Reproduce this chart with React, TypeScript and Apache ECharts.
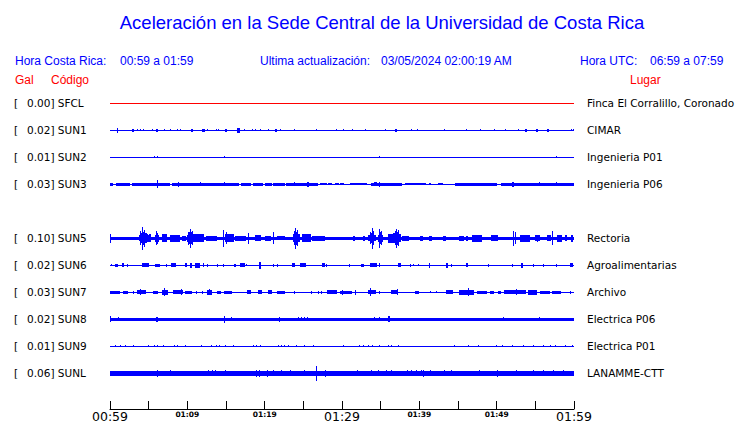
import React, { useEffect, useRef } from "react";
import * as echarts from "echarts";

// ---- axis / labels ----
const TIME_LABELS = ["00:59", "01:09", "01:19", "01:29", "01:39", "01:49", "01:59"];
const MINUTES_SPAN = 60;

// ---- stations ----
const CODES = ["SFCL", "SUN1", "SUN2", "SUN3", "SUN5", "SUN6", "SUN7", "SUN8", "SUN9", "SUNL"];
const PEAKS = ["0.00", "0.02", "0.01", "0.03", "0.10", "0.02", "0.03", "0.02", "0.01", "0.06"];
const PLACES = [
  "Finca El Corralillo, Coronado",
  "CIMAR",
  "Ingenieria P01",
  "Ingenieria P06",
  "Rectoria",
  "Agroalimentarias",
  "Archivo",
  "Electrica P06",
  "Electrica P01",
  "LANAMME-CTT",
];
const ROW_SLOTS = [0, 1, 2, 3, 5, 6, 7, 8, 9, 10];

// envelope bands: [startMin, endMin, halfAmplitudeGal]
// spikes: [minute, halfAmplitudeGal, durationMin?]
const SFCL_BAND: number[][] = [];
const SFCL_SPIKES: number[][] = [];

const SUN1_BAND: number[][] = [];
const SUN1_SPIKES: number[][] = [
  [0.95, 0.02], [2.9, 0.012], [3.1, 0.012], [3.5, 0.008], [3.9, 0.008], [4.3, 0.01], [5.5, 0.01],
  [6.1, 0.012, 0.25], [7.0, 0.01], [7.8, 0.01], [8.7, 0.008], [9.1, 0.01], [10.0, 0.006],
  [10.6, 0.012, 0.25], [12.05, 0.013, 0.4], [12.6, 0.01], [13.2, 0.006], [13.8, 0.01], [14.0, 0.01],
  [15.0, 0.012, 0.25], [16.6, 0.02, 0.4], [17.4, 0.01], [18.4, 0.01], [18.8, 0.01], [19.4, 0.01],
  [20.5, 0.008], [21.45, 0.012, 0.3], [22.0, 0.01], [22.4, 0.006], [23.8, 0.01], [26.7, 0.01],
  [27.7, 0.006], [28.5, 0.006], [29.3, 0.01], [30.2, 0.01], [31.3, 0.008], [31.8, 0.006], [33.0, 0.01],
  [35.6, 0.01], [37.0, 0.012, 0.2], [39.0, 0.01], [39.7, 0.01], [42.7, 0.006], [43.2, 0.01],
  [46.1, 0.01], [46.6, 0.006], [47.9, 0.01], [49.7, 0.01], [51.2, 0.01], [52.8, 0.01],
  [53.8, 0.013, 0.3], [55.3, 0.013, 0.3], [56.6, 0.013, 0.3], [59.7, 0.01], [59.9, 0.01],
];

const SUN2_BAND: number[][] = [];
const SUN2_SPIKES: number[][] = [
  [5.7, 0.008], [6.1, 0.008], [14.8, 0.008], [15.5, 0.006], [18.9, 0.005], [24.4, 0.005],
  [25.0, 0.005], [34.8, 0.01], [35.3, 0.006], [52.2, 0.005], [57.8, 0.01],
];

const SUN3_BAND: number[][] = [
  [0, 0.35, 0.011], [0.8, 2.65, 0.011], [2.9, 7.75, 0.011], [8.0, 16.6, 0.011], [17.0, 18.3, 0.011],
  [18.5, 19.8, 0.011], [20.0, 20.9, 0.011], [21.1, 22.6, 0.011], [22.8, 26.9, 0.011],
  [27.1, 28.0, 0.01], [28.2, 28.7, 0.01], [29.1, 29.6, 0.01], [29.7, 30.2, 0.01], [31.0, 33.2, 0.01],
  [33.8, 37.8, 0.011], [38.2, 40.9, 0.01], [41.3, 41.6, 0.009], [42.4, 43.0, 0.009],
  [44.6, 50.0, 0.011], [50.5, 60, 0.011],
];
const SUN3_SPIKES: number[][] = [
  [6.1, 0.035], [8.8, 0.019], [11.7, 0.018], [14.8, 0.018], [23.8, 0.015], [25.6, 0.021, 0.3],
  [34.3, 0.016, 0.4], [34.9, 0.022], [52.1, 0.02, 0.3], [55.6, 0.016], [57.7, 0.015],
];

const SUN5_BAND: number[][] = [
  [0, 60, 0.014],
  [3.7, 4.3, 0.025], [4.0, 4.15, 0.04], [4.15, 4.5, 0.055], [4.5, 4.7, 0.04],
  [4.6, 4.9, 0.035], [4.9, 5.1, 0.028], [5.1, 5.4, 0.033],
  [5.8, 5.95, 0.03], [5.95, 6.15, 0.045], [6.15, 6.3, 0.03], [6.7, 7.3, 0.033],
  [7.8, 9.1, 0.028], [9.3, 9.8, 0.021], [9.9, 10.1, 0.03], [10.1, 10.6, 0.05], [10.6, 11.0, 0.035],
  [11.0, 12.1, 0.033], [12.4, 13.8, 0.019],
  [14.9, 16.0, 0.035], [16.2, 17.6, 0.021], [18.8, 19.6, 0.025], [20.0, 20.8, 0.021],
  [21.6, 22.6, 0.018], [23.7, 23.9, 0.035], [23.9, 24.3, 0.055], [24.3, 24.6, 0.035],
  [24.8, 25.9, 0.033], [26.1, 27.8, 0.021],
  [31.4, 31.6, 0.021], [32.7, 32.9, 0.021], [33.4, 33.7, 0.025], [33.7, 34.1, 0.04], [34.1, 34.3, 0.025],
  [34.6, 34.8, 0.03], [34.8, 35.1, 0.05], [35.1, 35.3, 0.03],
  [36.0, 36.6, 0.037], [36.6, 36.9, 0.04], [36.9, 37.3, 0.055], [37.3, 37.7, 0.035],
  [37.7, 38.6, 0.021], [40.1, 40.5, 0.021],
  [41.2, 41.6, 0.021], [43.1, 43.5, 0.021], [45.1, 45.7, 0.021], [46.0, 46.2, 0.021],
  [46.8, 48.1, 0.029], [49.3, 50.2, 0.025], [53.0, 54.3, 0.029], [55.0, 55.6, 0.027],
  [56.5, 57.0, 0.025], [57.8, 58.4, 0.029], [58.8, 59.0, 0.025], [59.6, 59.8, 0.029],
];
const SUN5_SPIKES: number[][] = [
  [0.05, 0.037], [4.2, 0.095, 0.15], [4.0, 0.06], [4.45, 0.07], [6.05, 0.06], [10.4, 0.078],
  [10.2, 0.055], [10.7, 0.06], [14.7, 0.07], [15.1, 0.05], [17.9, 0.046], [21.1, 0.052],
  [24.05, 0.089], [23.85, 0.06], [24.3, 0.065], [33.9, 0.087], [33.7, 0.05], [34.1, 0.06],
  [34.9, 0.08], [35.1, 0.06], [37.1, 0.078], [36.9, 0.06], [37.3, 0.065], [52.2, 0.064],
  [52.4, 0.05], [57.2, 0.058], [55.3, 0.03],
];

const SUN6_BAND: number[][] = [
  [0.6, 1.0, 0.014], [1.5, 1.7, 0.017], [4.1, 5.0, 0.017], [5.8, 6.5, 0.014], [7.9, 8.6, 0.017],
  [9.7, 9.9, 0.017], [10.3, 10.6, 0.019], [11.0, 11.6, 0.019], [16.0, 16.3, 0.014],
  [16.8, 17.4, 0.017], [23.5, 23.9, 0.017], [24.6, 25.4, 0.017], [27.4, 27.8, 0.017],
  [32.5, 32.9, 0.012], [33.6, 34.5, 0.017], [37.3, 37.7, 0.017], [43.4, 43.7, 0.019],
  [46.0, 46.3, 0.017], [53.2, 53.5, 0.019], [59.5, 59.9, 0.017],
];
const SUN6_SPIKES: number[][] = [
  [0.22, 0.008], [2.3, 0.012], [7.3, 0.014], [12.1, 0.017], [12.6, 0.011], [13.9, 0.011],
  [14.7, 0.014], [17.7, 0.008], [19.45, 0.03, 0.3], [21.2, 0.012], [21.7, 0.012], [28.0, 0.011],
  [31.0, 0.012], [34.9, 0.017], [38.8, 0.012], [39.3, 0.01], [39.9, 0.01], [41.3, 0.019],
  [44.2, 0.012], [49.0, 0.012], [52.1, 0.012], [54.7, 0.011], [56.0, 0.012], [57.7, 0.011],
];

const SUN7_BAND: number[][] = [
  [0, 1.3, 0.014], [1.7, 2.4, 0.011], [3.5, 4.7, 0.017], [5.6, 6.3, 0.012], [6.7, 7.5, 0.021],
  [8.2, 9.5, 0.017], [9.7, 10.6, 0.014], [12.5, 13.2, 0.019], [13.9, 14.4, 0.014],
  [14.7, 15.7, 0.011], [17.7, 18.2, 0.017], [19.2, 19.7, 0.017], [20.4, 20.9, 0.017],
  [21.6, 22.6, 0.014], [28.0, 29.3, 0.017], [29.7, 31.3, 0.014], [33.4, 34.4, 0.017],
  [36.4, 37.3, 0.017], [39.4, 39.9, 0.012], [43.5, 44.4, 0.017], [45.1, 47.0, 0.019],
  [47.4, 48.7, 0.011], [49.1, 49.6, 0.014], [50.2, 50.6, 0.014], [51.0, 53.9, 0.017],
  [54.1, 55.2, 0.019], [55.6, 56.9, 0.014], [57.1, 58.2, 0.012],
];
const SUN7_SPIKES: number[][] = [
  [3.0, 0.011], [4.0, 0.025], [7.0, 0.033], [9.3, 0.025], [11.2, 0.011], [11.9, 0.011],
  [12.9, 0.025], [23.9, 0.011], [26.0, 0.011], [27.0, 0.011], [27.4, 0.011], [30.1, 0.019],
  [31.7, 0.021], [33.7, 0.035], [34.9, 0.011], [37.2, 0.025], [41.4, 0.01], [42.2, 0.008],
  [46.3, 0.033], [52.6, 0.027], [59.5, 0.011],
];

const SUN8_BAND: number[][] = [[0, 60, 0.011]];
const SUN8_SPIKES: number[][] = [
  [0.05, 0.025], [1.1, 0.017], [2.4, 0.014], [4.9, 0.014], [6.05, 0.019, 0.3], [10.1, 0.014],
  [11.9, 0.014], [14.8, 0.03], [15.7, 0.017], [21.9, 0.019], [22.8, 0.014], [24.4, 0.017],
  [24.8, 0.017], [25.2, 0.017], [25.6, 0.017], [34.2, 0.017], [34.9, 0.017], [36.1, 0.025, 0.2],
  [39.9, 0.012], [50.9, 0.017], [52.1, 0.014], [53.0, 0.014], [55.6, 0.017], [57.0, 0.014],
];

const SUN9_BAND: number[][] = [];
const SUN9_SPIKES: number[][] = [
  [0.65, 0.009], [1.3, 0.008], [2.0, 0.009], [3.0, 0.009], [5.0, 0.008], [5.8, 0.009], [6.2, 0.009],
  [6.9, 0.008], [8.4, 0.009], [8.7, 0.008], [9.7, 0.008], [11.8, 0.009], [13.1, 0.008],
  [13.8, 0.009], [14.1, 0.008], [14.9, 0.009], [16.0, 0.008], [18.5, 0.009], [19.0, 0.008],
  [19.4, 0.009], [21.8, 0.009], [22.2, 0.008], [22.6, 0.009], [23.1, 0.008], [24.1, 0.009],
  [25.2, 0.008], [26.3, 0.008], [30.2, 0.008], [32.2, 0.008], [32.8, 0.008], [33.4, 0.008],
  [34.0, 0.009], [34.9, 0.009], [36.0, 0.008], [36.4, 0.009], [37.3, 0.008], [44.6, 0.008],
  [46.3, 0.009], [47.6, 0.008], [50.0, 0.008], [50.8, 0.009], [52.1, 0.009], [53.5, 0.008],
  [54.7, 0.009], [56.0, 0.008], [57.0, 0.009], [57.6, 0.008], [58.9, 0.008], [59.8, 0.009],
];

const SUNL_BAND: number[][] = [[0, 60, 0.02]];
const SUNL_SPIKES: number[][] = [
  [6.2, 0.028], [7.0, 0.022], [7.8, 0.025], [9.2, 0.022], [12.7, 0.025], [13.2, 0.025],
  [13.6, 0.025], [14.9, 0.025], [19.0, 0.029], [19.3, 0.029], [20.4, 0.031], [21.1, 0.025],
  [22.2, 0.025], [23.3, 0.025], [25.2, 0.025], [26.7, 0.064], [27.9, 0.029], [29.0, 0.022],
  [31.3, 0.022], [32.0, 0.025], [33.8, 0.025], [34.7, 0.025], [35.8, 0.027], [36.4, 0.027],
  [38.5, 0.025], [39.0, 0.025], [39.6, 0.025], [40.3, 0.025], [40.6, 0.029], [41.4, 0.025],
  [43.3, 0.025], [44.2, 0.025], [47.8, 0.025], [50.1, 0.029], [52.6, 0.025], [54.7, 0.025],
  [56.0, 0.025], [57.3, 0.025], [58.6, 0.025],
];

const BANDS_LIST = [SFCL_BAND, SUN1_BAND, SUN2_BAND, SUN3_BAND, SUN5_BAND, SUN6_BAND, SUN7_BAND, SUN8_BAND, SUN9_BAND, SUNL_BAND];
const SPIKES_LIST = [SFCL_SPIKES, SUN1_SPIKES, SUN2_SPIKES, SUN3_SPIKES, SUN5_SPIKES, SUN6_SPIKES, SUN7_SPIKES, SUN8_SPIKES, SUN9_SPIKES, SUNL_SPIKES];

// layout constants
const GAL_PER_ROW = 0.225; // vertical spacing of the traces in Gal
const DEFAULT_SPIKE_DUR = 0.13;
const BLUE = "#0000ff";
const RED = "#ff0000";
const SANS = "'Liberation Sans', Arial, sans-serif";
const DEJAVU = "'DejaVu Sans', sans-serif";

function buildItems(bands: number[][], spikes: number[][]) {
  const items: number[][] = [[0, MINUTES_SPAN, 0]];
  bands.forEach((b) => items.push([b[0], b[1], b[2]]));
  spikes.forEach((s) => {
    const d = s[2] ?? DEFAULT_SPIKE_DUR;
    items.push([s[0] - d / 2, s[0] + d / 2, s[1]]);
  });
  return items;
}

export default function App() {
  const ref = useRef<HTMLDivElement>(null);

  useEffect(() => {
    const chart = echarts.init(ref.current!, null, { renderer: "svg" });

    const series = CODES.map((code, i) => {
      const slot = ROW_SLOTS[i];
      const color = i === 0 ? RED : BLUE;
      return {
        type: "custom",
        name: code,
        coordinateSystem: "cartesian2d",
        silent: true,
        dimensions: ["t0", "t1", "amp"],
        encode: { x: [0, 1], y: 2 },
        data: buildItems(BANDS_LIST[i], SPIKES_LIST[i]),
        renderItem: (params: any, api: any) => {
          const t0 = api.value(0);
          const t1 = api.value(1);
          const amp = api.value(2);
          const c = slot * GAL_PER_ROW;
          const pa = api.coord([t0, c]);
          const pb = api.coord([t1, c + amp]);
          const x0 = Math.round(Math.min(pa[0], pb[0]));
          const w = Math.max(1, Math.round(Math.abs(pb[0] - pa[0])));
          const half = Math.abs(pb[1] - pa[1]);
          const h = Math.max(1, Math.round(2 * half));
          const y = Math.round(pa[1] - h / 2);
          return {
            type: "rect",
            shape: { x: x0, y, width: w, height: h },
            style: { fill: color },
          };
        },
      };
    });

    const graphics: any[] = [];
    const txt = (x: number, y: number, text: string, font: string, fill: string, align = "left") =>
      graphics.push({
        type: "text",
        x,
        y,
        silent: true,
        style: { text, font, fill, textAlign: align, textVerticalAlign: "middle" },
      });

    txt(382, 22, "Aceleración en la Sede Central de la Universidad de Costa Rica", `18.5px ${SANS}`, BLUE, "center");
    txt(15, 61, "Hora Costa Rica:", `12px ${SANS}`, BLUE);
    txt(120, 61, "00:59 a 01:59", `12px ${SANS}`, BLUE);
    txt(260, 61, "Ultima actualización:", `12px ${SANS}`, BLUE);
    txt(381, 61, "03/05/2024 02:00:19 AM", `12px ${SANS}`, BLUE);
    txt(580, 61, "Hora UTC:", `12px ${SANS}`, BLUE);
    txt(650, 61, "06:59 a 07:59", `12px ${SANS}`, BLUE);
    txt(15, 80, "Gal", `12px ${SANS}`, RED);
    txt(51, 80, "Código", `12px ${SANS}`, RED);
    txt(630, 80, "Lugar", `12px ${SANS}`, RED);

    CODES.forEach((code, i) => {
      const y = 103 + 27 * ROW_SLOTS[i];
      txt(14, y, "[", `10.5px ${DEJAVU}`, "#000");
      txt(27, y, `${PEAKS[i]}] ${code}`, `10.5px ${DEJAVU}`, "#000");
      txt(587, y, PLACES[i], `10.5px ${DEJAVU}`, "#000");
    });

    const option: any = {
      animation: false,
      backgroundColor: "#ffffff",
      grid: { left: 110, right: 166, top: 90, height: 319.5, containLabel: false },
      xAxis: {
        type: "value",
        position: "bottom",
        min: 0,
        max: MINUTES_SPAN,
        interval: 5,
        splitLine: { show: false },
        axisLine: { show: true, onZero: false, lineStyle: { color: "#000", width: 1 } },
        axisTick: { show: true, inside: true, length: 8, lineStyle: { color: "#000", width: 1 } },
        axisLabel: {
          show: true,
          margin: 1,
          showMinLabel: true,
          showMaxLabel: true,
          formatter: (v: number) => {
            const idx = Math.round(v / 10);
            if (Math.abs(v - idx * 10) > 1e-6) return "";
            const big = idx % 3 === 0;
            return `{${big ? "b" : "s"}|${TIME_LABELS[idx]}}`;
          },
          rich: {
            b: { fontSize: 12.5, fontFamily: DEJAVU, color: "#000" },
            s: { fontSize: 7.5, fontWeight: "bold", fontFamily: DEJAVU, color: "#000" },
          },
        },
      },
      yAxis: {
        type: "value",
        show: false,
        inverse: true,
        min: -0.1125,
        max: 2.55,
        splitLine: { show: false },
      },
      graphic: graphics,
      series,
    };

    chart.setOption(option);
    return () => chart.dispose();
  }, []);

  return (
    <div
      ref={ref}
      style={{ position: "fixed", left: 0, top: 0, width: 740, height: 423, background: "#fff" }}
    />
  );
}
